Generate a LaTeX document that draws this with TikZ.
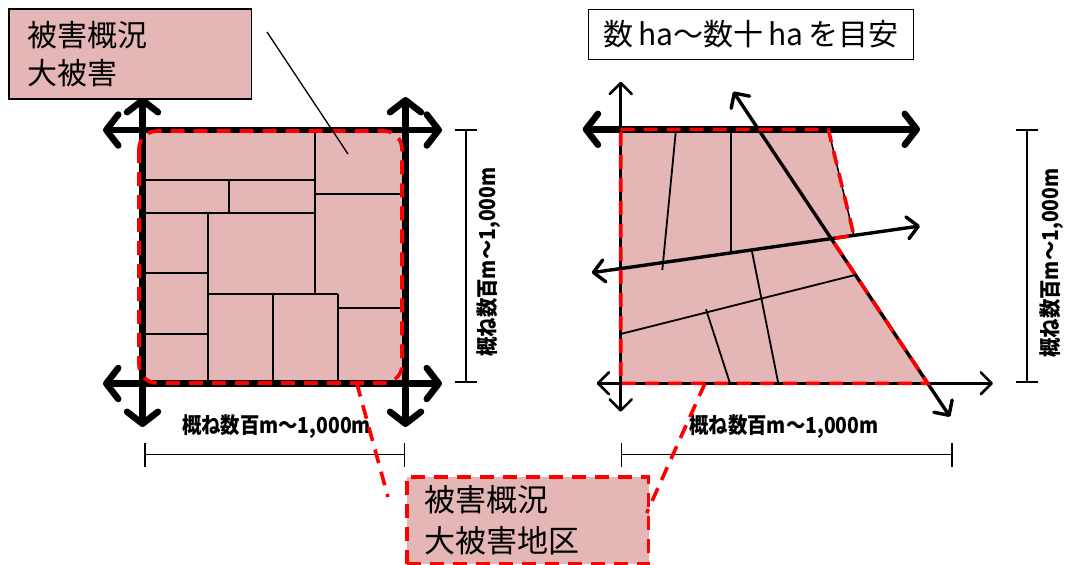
\documentclass[tikz,border=0pt]{standalone}
\usepackage{fontspec}
\newfontfamily\cjk{Noto Sans CJK JP}
\newfontfamily\cjkdim[FakeStretch=0.88]{Noto Sans CJK JP}
\usetikzlibrary{arrows.meta}
\definecolor{pinkfill}{HTML}{E4B6B6}
\definecolor{dashred}{HTML}{FF0000}
\tikzset{
  bigarrow/.style={line width=6.5pt, arrows={Straight Barb[length=12pt,width=31pt,round]-Straight Barb[length=12pt,width=31pt,round]}},
  thinarrow/.style={line width=2.6pt, arrows={Straight Barb[length=11pt,width=22pt,round]-Straight Barb[length=11pt,width=22pt,round]}},
  roadarrow/.style={line width=3.4pt, arrows={Straight Barb[length=11pt,width=22pt,round]-Straight Barb[length=11pt,width=22pt,round]}},
  block/.style={line width=1.8pt, black},
  reddash/.style={draw=dashred, line width=3.6pt, dash pattern=on 14pt off 9pt},
  dimline/.style={line width=1.5pt, black},
  dimlabel/.style={font=\cjkdim\bfseries\fontsize{22}{26}\selectfont, inner sep=0pt},
  labelbox/.style={draw=black, line width=1.5pt, fill=pinkfill, anchor=north west, align=left, inner xsep=18pt, inner ysep=0pt},
}
\begin{document}
\begin{tikzpicture}[x=1pt,y=-1pt]
\useasboundingbox (0,0) rectangle (1077,565);

% ---------------- left square ----------------
\fill[pinkfill] (142.5,130) rectangle (405.5,383.5);
% inner block lines
\draw[block] (315,130) -- (315,294);
\draw[block] (142.5,180) -- (315,180);
\draw[block] (228.7,180) -- (228.7,212.7);
\draw[block] (142.5,212.7) -- (315,212.7);
\draw[block] (315,194.3) -- (405.5,194.3);
\draw[block] (207.7,212.7) -- (207.7,383.5);
\draw[block] (142.5,273.3) -- (207.7,273.3);
\draw[block] (142.5,334.3) -- (207.7,334.3);
\draw[block] (207.7,294) -- (338.3,294);
\draw[block] (272.7,294) -- (272.7,383.5);
\draw[block] (338.3,294) -- (338.3,383.5);
\draw[block] (338.3,308.3) -- (405.5,308.3);
% thick road arrows
\coordinate (LtW) at (103,130);   \coordinate (LtE) at (442,130);
\coordinate (LbW) at (103,383.5); \coordinate (LbE) at (442,383.5);
\coordinate (LlN) at (142.5,97);  \coordinate (LlS) at (142.5,427);
\coordinate (LrN) at (405.5,97);  \coordinate (LrS) at (405.5,427);
\draw[bigarrow] (LtW) -- (LtE);
\draw[bigarrow] (LbW) -- (LbE);
\draw[bigarrow] (LlN) -- (LlS);
\draw[bigarrow] (LrN) -- (LrS);
% red dashed rounded area
\draw[reddash, rounded corners=18pt] (139,131) rectangle (402,383);

% label box 1 and leader
\node[labelbox, text width=206.4pt, minimum height=90pt, font=\cjk\fontsize{30}{38.3}\selectfont] (lab1) at (8.3,8.3) {被害概況\\大被害};
\coordinate (lead1a) at (267,32);
\coordinate (lead1b) at (348,154);
\draw[line width=1.3pt] (lead1a) -- (lead1b);

% dimension lines left
\coordinate (dLa) at (145,454.5); \coordinate (dLb) at (404.5,454.5);
\draw[dimline] (dLa) -- (dLb);
\draw[dimline] (145,443) -- (145,467);
\draw[dimline] (404.5,443) -- (404.5,467);
\node[dimlabel] (dimL) at (276.5,427) {概ね数百m～1,000m};
\coordinate (vLa) at (466,130); \coordinate (vLb) at (466,382);
\draw[dimline] (vLa) -- (vLb);
\draw[dimline] (455,130) -- (477,130);
\draw[dimline] (455,382) -- (477,382);
\node[dimlabel, rotate=90] (dimLv) at (489,262) {概ね数百m～1,000m};

% ---------------- right area ----------------
\coordinate (P1) at (620.7,129.3);
\coordinate (P2) at (828.3,129.3);
\coordinate (Rw) at (591.7,272.7); \coordinate (Re) at (920,226);
\coordinate (Dn) at (733.3,91.7);  \coordinate (Ds) at (950,416.7);
\coordinate (P2b) at (854,236);
\coordinate (P3) at (intersection of P2--P2b and Rw--Re);
\coordinate (P4) at (intersection of Dn--Ds and Rw--Re);
\coordinate (P5) at (intersection of Dn--Ds and 600,383.3--1000,383.3);
\coordinate (P6) at (620.7,383.3);
\filldraw[fill=pinkfill, draw=black, line width=1.5pt] (P1) -- (P2) -- (P3) -- (P4) -- (P5) -- (P6) -- cycle;
% inner lines
\draw[block] (676,129.3) -- (662.3,270);
\draw[block] (731,129.3) -- (731,252);
\draw[block] (751.7,250) -- (778.3,383.3);
\draw[block] (620.7,334) -- (855,275);
\draw[block] (706,309.3) -- (730,383.3);
% roads
\coordinate (RtW) at (582.7,129.3); \coordinate (RtE) at (920,129.3);
\coordinate (RlN) at (620.7,81.7);  \coordinate (RlS) at (620.7,411.7);
\coordinate (RbW) at (596.7,383.3); \coordinate (RbE) at (993,383.3);
\draw[thinarrow] (RlN) -- (RlS);
\draw[thinarrow] (RbW) -- (RbE);
\draw[roadarrow] (Rw) -- (Re);
\draw[roadarrow] (Dn) -- (Ds);
\draw[bigarrow] (RtW) -- (RtE);
% red dashed area
\draw[reddash] (P1) -- (P2) -- (P3) -- (P4) -- (P5) -- (P6) -- cycle;

% title box
\node[draw=black, line width=1.5pt, minimum width=325pt, minimum height=50pt, inner sep=0pt, font=\cjk\fontsize{30}{36}\selectfont] (title) at (750.8,34.3) {数\,ha～数十\,ha\,を目安};

% dimension lines right
\coordinate (dRa) at (621.7,454.5); \coordinate (dRb) at (952,454.5);
\draw[dimline] (dRa) -- (dRb);
\draw[dimline] (621.7,443) -- (621.7,467);
\draw[dimline] (952,443) -- (952,467);
\node[dimlabel] (dimR) at (784,427) {概ね数百m～1,000m};
\coordinate (vRa) at (1027,130); \coordinate (vRb) at (1027,382);
\draw[dimline] (vRa) -- (vRb);
\draw[dimline] (1016,130) -- (1038,130);
\draw[dimline] (1016,382) -- (1038,382);
\node[dimlabel, rotate=90] (dimRv) at (1052,263) {概ね数百m～1,000m};

% ---------------- bottom label ----------------
\node[labelbox, draw=dashred, line width=3.6pt, dash pattern=on 14pt off 9pt, text width=205.7pt, minimum height=87pt, font=\cjk\fontsize{31}{41.7}\selectfont] (lab2) at (405,475) {被害概況\\大被害地区};
\coordinate (lead2a) at (356.7,383);
\coordinate (lead2b) at (388,497);
\draw[reddash] (lead2a) -- (lead2b);
\coordinate (lead3a) at (705,383.3);
\coordinate (lead3b) at (646.7,513);
\draw[reddash] (lead3a) -- (lead3b);
\end{tikzpicture}
\end{document}
